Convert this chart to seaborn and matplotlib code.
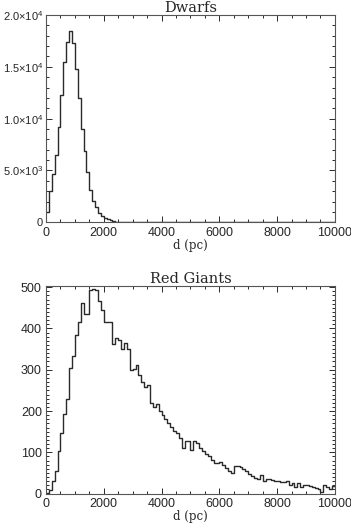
import numpy as np
import pandas as pd
import matplotlib
matplotlib.use("Agg")
import matplotlib.pyplot as plt
from matplotlib.ticker import MultipleLocator
import seaborn as sns

# histogram data: 100 pc bins from 0 to 10000 pc
bin_edges = np.arange(0, 10001, 100)

dwarf_counts = [
    1000, 3050, 4660, 6500, 9230, 12280, 15430, 17430, 18490, 17270,
    14790, 11960, 9000, 6910, 4820, 3120, 2090, 1450, 930, 640,
    420, 290, 180, 115, 75, 48, 32, 22, 15, 11,
    8, 6, 5, 4, 3, 3, 2, 2, 2, 2,
    1, 1, 1, 1, 1, 1, 1, 1, 1, 1,
    1, 1, 1, 1, 1, 1, 1, 1, 1, 1,
    1, 1, 1, 1, 1, 1, 1, 1, 1, 1,
    1, 1, 1, 1, 1, 1, 1, 1, 0, 0,
    0, 0, 0, 0, 0, 0, 0, 0, 0, 0,
    0, 0, 0, 0, 0, 0, 0, 0, 0, 0,
]

giant_counts = [
    2, 8, 30, 54, 102, 146, 193, 228, 304, 333,
    384, 416, 461, 434, 436, 494, 496, 492, 467, 445,
    416, 416, 416, 363, 377, 371, 350, 366, 350, 300,
    303, 311, 287, 271, 259, 264, 220, 210, 218, 200,
    190, 180, 170, 161, 151, 146, 134, 110, 128, 128,
    106, 127, 122, 110, 104, 96, 90, 82, 74, 74,
    76, 70, 62, 55, 49, 66, 66, 65, 59, 54,
    47, 42, 38, 35, 46, 30, 35, 35, 34, 31,
    30, 28, 28, 30, 22, 26, 16, 26, 16, 22,
    20, 18, 16, 14, 11, 3, 22, 16, 10, 18,
]

dwarf_yticks = [0, 5000, 10000, 15000, 20000]
dwarf_ylabels = ["0", r"5.0$\times$10$^3$", r"1.0$\times$10$^4$",
                 r"1.5$\times$10$^4$", r"2.0$\times$10$^4$"]
giant_yticks = [0, 100, 200, 300, 400, 500]
xticks = [0, 2000, 4000, 6000, 8000, 10000]

sns.set_style("ticks")
plt.rcParams["font.family"] = ["Liberation Sans", "DejaVu Sans"]
plt.rcParams["mathtext.fontset"] = "custom"
plt.rcParams["mathtext.rm"] = "Liberation Sans"

centers = (bin_edges[:-1] + bin_edges[1:]) / 2
df = pd.DataFrame({"d": centers, "dwarfs": dwarf_counts, "giants": giant_counts})

fig = plt.figure(figsize=(3.51, 5.26), dpi=100)
ax1 = fig.add_axes([0.131, 0.5774, 0.823, 0.394])
ax2 = fig.add_axes([0.131, 0.0616, 0.823, 0.394])

line_color = "#2a2a2a"
serif = ["DejaVu Serif"]

for ax, col, title in [(ax1, "dwarfs", "Dwarfs"), (ax2, "giants", "Red Giants")]:
    sns.histplot(data=df, x="d", weights=col, binwidth=100, binrange=(0, 10000),
                 element="step", fill=False, color=line_color, linewidth=1.0, ax=ax)
    ax.set_xlim(0, 10000)
    ax.set_xticks(xticks)
    ax.xaxis.set_minor_locator(MultipleLocator(500))
    ax.set_xlabel("d (pc)", family=serif, fontsize=8.5, labelpad=0)
    ax.set_ylabel("")
    ax.set_title(title, family=serif, fontsize=10.5, pad=2)
    ax.tick_params(which="both", direction="in", top=True, right=True,
                   labelsize=9, color=line_color, width=0.7, pad=3)
    ax.tick_params(which="major", length=4)
    ax.tick_params(which="minor", length=2)
    ax.tick_params(axis="x", which="major", pad=3.5)
    for s in ax.spines.values():
        s.set_linewidth(0.8)
        s.set_color("#555555")

ax1.set_ylim(0, 20000)
ax1.set_yticks(dwarf_yticks, labels=dwarf_ylabels)
ax1.yaxis.set_minor_locator(MultipleLocator(1000))
ax1.tick_params(axis="y", which="major", labelsize=8, pad=2)

ax2.set_ylim(0, 502)
ax2.set_yticks(giant_yticks)
ax2.yaxis.set_minor_locator(MultipleLocator(10))

fig.savefig("out.png", dpi=100)
